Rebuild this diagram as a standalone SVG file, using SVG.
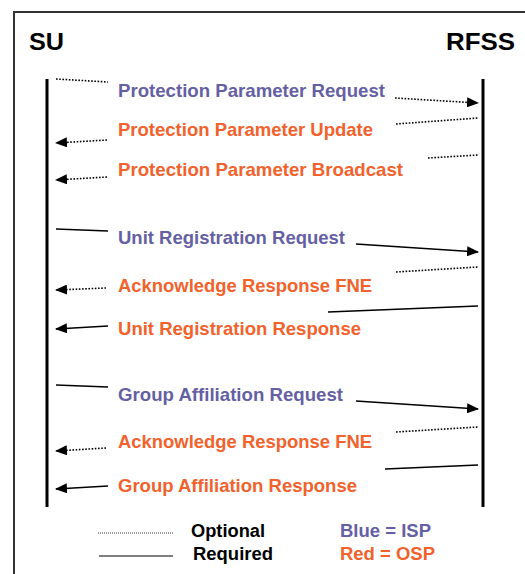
<svg xmlns="http://www.w3.org/2000/svg" width="525" height="574" viewBox="0 0 525 574">
<style>
text{font-family:"Liberation Sans",Arial,sans-serif;font-weight:bold}
.t{font-size:19px}
.hd{font-size:24px;fill:#000}
.lg{font-size:18px;fill:#000}
.isp{fill:#655fa3}
.osp{fill:#f2622c}
.sol{stroke:#000;stroke-width:1.6;fill:none}
.dot{stroke:#000;stroke-width:1.6;fill:none;stroke-dasharray:1.6 1.6}
.life{stroke:#000;stroke-width:3}
</style>
<defs>
<marker id="ah" markerUnits="userSpaceOnUse" markerWidth="12" markerHeight="10" refX="11" refY="5" orient="auto">
<path d="M0,0 L12,5 L0,10 z" fill="#000"/>
</marker>
</defs>
<rect width="525" height="574" fill="#fff"/>
<path d="M14,574 V12 H525" fill="none" stroke="#333" stroke-width="2"/>
<g id="su"><text class="hd" x="29" y="50" textLength="35" lengthAdjust="spacingAndGlyphs">SU</text><line class="life" x1="47" y1="79" x2="47" y2="507"/></g>
<g id="rfss"><text class="hd" x="446" y="50" textLength="69" lengthAdjust="spacingAndGlyphs">RFSS</text><line class="life" x1="483" y1="79" x2="483" y2="507"/></g>
<g id="connectors">
<line class="dot" x1="56" y1="79" x2="108" y2="82"/>
<line class="dot" x1="395" y1="98" x2="478" y2="103" marker-end="url(#ah)"/>
<line class="dot" x1="396" y1="124" x2="478" y2="118"/>
<line class="dot" x1="107" y1="140" x2="56" y2="143" marker-end="url(#ah)"/>
<line class="dot" x1="428" y1="158" x2="478" y2="155"/>
<line class="dot" x1="107" y1="177" x2="56" y2="180" marker-end="url(#ah)"/>
<line class="sol" x1="56" y1="229" x2="108" y2="231"/>
<line class="sol" x1="356" y1="244" x2="478" y2="252" marker-end="url(#ah)"/>
<line class="dot" x1="396" y1="272" x2="478" y2="267"/>
<line class="dot" x1="106" y1="288" x2="56" y2="290" marker-end="url(#ah)"/>
<line class="sol" x1="328" y1="312" x2="478" y2="306"/>
<line class="sol" x1="108" y1="326" x2="56" y2="329" marker-end="url(#ah)"/>
<line class="sol" x1="56" y1="385" x2="108" y2="387"/>
<line class="sol" x1="356" y1="401" x2="478" y2="409" marker-end="url(#ah)"/>
<line class="dot" x1="396" y1="432" x2="478" y2="427"/>
<line class="dot" x1="106" y1="448" x2="56" y2="451" marker-end="url(#ah)"/>
<line class="sol" x1="385" y1="469" x2="478" y2="465"/>
<line class="sol" x1="108" y1="486" x2="56" y2="489" marker-end="url(#ah)"/>
</g>
<g id="m1"><text class="t isp" x="118" y="97" textLength="267" lengthAdjust="spacingAndGlyphs">Protection Parameter Request</text></g>
<g id="m2"><text class="t osp" x="118" y="136" textLength="255" lengthAdjust="spacingAndGlyphs">Protection Parameter Update</text></g>
<g id="m3"><text class="t osp" x="118" y="176" textLength="285" lengthAdjust="spacingAndGlyphs">Protection Parameter Broadcast</text></g>
<g id="m4"><text class="t isp" x="118" y="244" textLength="227" lengthAdjust="spacingAndGlyphs">Unit Registration Request</text></g>
<g id="m5"><text class="t osp" x="118" y="292" textLength="254" lengthAdjust="spacingAndGlyphs">Acknowledge Response FNE</text></g>
<g id="m6"><text class="t osp" x="118" y="335" textLength="243" lengthAdjust="spacingAndGlyphs">Unit Registration Response</text></g>
<g id="m7"><text class="t isp" x="118" y="401" textLength="225" lengthAdjust="spacingAndGlyphs">Group Affiliation Request</text></g>
<g id="m8"><text class="t osp" x="118" y="448" textLength="254" lengthAdjust="spacingAndGlyphs">Acknowledge Response FNE</text></g>
<g id="m9"><text class="t osp" x="118" y="492" textLength="239" lengthAdjust="spacingAndGlyphs">Group Affiliation Response</text></g>
<g id="legend">
<line x1="98" y1="533" x2="173" y2="533" stroke="#333" stroke-width="1" stroke-dasharray="1 1"/>
<line x1="99" y1="556" x2="173" y2="556" stroke="#000" stroke-width="1.2"/>
<text class="lg" x="191" y="537" textLength="74" lengthAdjust="spacingAndGlyphs">Optional</text>
<text class="lg" x="193" y="560" textLength="80" lengthAdjust="spacingAndGlyphs">Required</text>
<text class="lg isp" x="340" y="537" textLength="91" lengthAdjust="spacingAndGlyphs">Blue = ISP</text>
<text class="lg osp" x="340" y="560" textLength="95" lengthAdjust="spacingAndGlyphs">Red = OSP</text>
</g>
</svg>
